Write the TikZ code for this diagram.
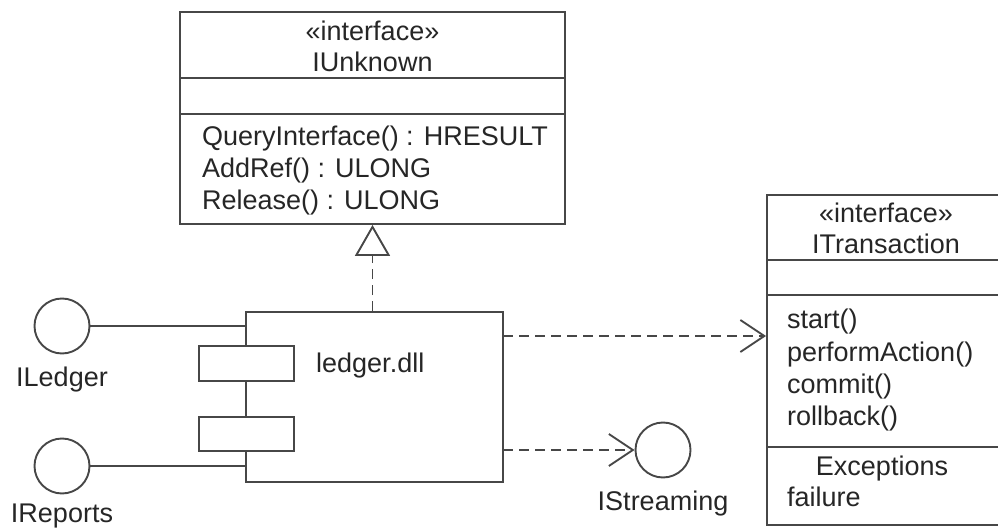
\documentclass[tikz,border=0pt]{standalone}
\usepackage{fontspec}
\setmainfont{Liberation Sans}
\usetikzlibrary{arrows.meta}
\begin{document}
\begin{tikzpicture}[x=1pt,y=-1pt,
  ln/.style={line width=1.9pt, draw=black!72},
  box/.style={ln, rectangle, inner sep=0pt, fill=white},
  txt/.style={inner sep=0pt, text=black!85, font=\fontsize{27}{32}\selectfont},
  lball/.style={ln, circle, inner sep=0pt, minimum size=55pt},
  dsh/.style={ln, dash pattern=on 10pt off 6pt},
  opentip/.style={-{Straight Barb[length=24pt,width=32pt,line width=1.9pt]}},
  realize/.style={-{Triangle[open,length=31pt,width=35pt,line width=1.9pt,fill=white]}}
]
\useasboundingbox (0,0) rectangle (998,529);
% IUnknown
\node[box, minimum width=385pt, minimum height=212pt] (iunk) at (372.5,118) {};
\draw[ln] (180,78) -- (565,78);
\draw[ln] (180,114) -- (565,114);
\node[txt] (iunkst) at (372.5,31) {«interface»};
\node[txt] (iunkname) at (372.5,62) {IUnknown};
\node[txt, anchor=mid west] (m1) at (202,143) {QueryInterface() : HRESULT};
\node[txt, anchor=mid west] (m2) at (202,175) {AddRef() : ULONG};
\node[txt, anchor=mid west] (m3) at (202,207) {Release() : ULONG};
% ITransaction
\node[box, minimum width=237pt, minimum height=330pt] (itr) at (885.5,360) {};
\draw[ln] (767,260) -- (1004,260);
\draw[ln] (767,295) -- (1004,295);
\draw[ln] (767,447) -- (1004,447);
\node[txt] (itrst) at (886,213) {«interface»};
\node[txt] (itrname) at (886,244) {ITransaction};
\node[txt, anchor=mid west] (t1) at (787,326) {start()};
\node[txt, anchor=mid west] (t2) at (787,359) {performAction()};
\node[txt, anchor=mid west] (t3) at (787,391) {commit()};
\node[txt, anchor=mid west] (t4) at (787,423) {rollback()};
\node[txt] (t5) at (882,469) {Exceptions};
\node[txt, anchor=mid west] (t6) at (787,504) {failure};
% component
\node[box, minimum width=257pt, minimum height=170pt] (comp) at (374.5,397) {};
\node[box, minimum width=95pt, minimum height=35pt] (p1) at (246.5,363.5) {};
\node[box, minimum width=95pt, minimum height=34pt] (p2) at (246.5,434) {};
\node[txt, anchor=mid west] (cname) at (316,370) {ledger.dll};
% lollipops
\node[lball] (iled) at (62,326) {};
\node[lball] (irep) at (62,466) {};
\node[lball] (istr) at (663,450) {};
\node[txt] (iledl) at (62,380) {ILedger};
\node[txt] (irepl) at (62,516) {IReports};
\node[txt] (istrl) at (663,504) {IStreaming};
\draw[ln] (iled.east) -- (iled.east -| comp.west);
\draw[ln] (irep.east) -- (irep.east -| comp.west);
% realization
\draw[dsh, realize] (iunk.south |- comp.north) -- (iunk.south);
% dependencies
\coordinate (d1) at (503,336);
\coordinate (d2) at (503,450);
\draw[dsh, opentip] (d1) -- (d1 -| itr.west);
\draw[dsh, opentip] (d2) -- (istr.west);
\end{tikzpicture}
\end{document}
